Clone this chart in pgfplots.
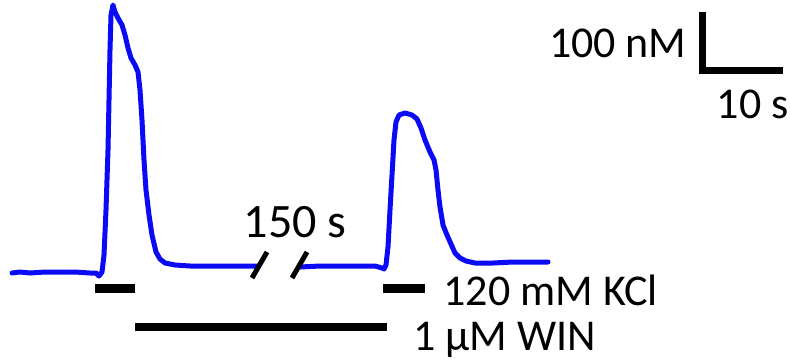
\documentclass[border=0pt]{standalone}
\usepackage{pgfplots}
\pgfplotsset{compat=1.18}
\usepackage{fontspec}
\setmainfont{Carlito}
\begin{document}
\begin{tikzpicture}
\begin{axis}[
  scale only axis, width=395pt, height=180pt,
  xmin=0, xmax=790, ymin=0, ymax=360,
  hide axis, clip=false,
  y dir=reverse,
]
\addplot[draw=none] coordinates {(0,0) (790,360)};
% trace, first part
\addplot[color={rgb,255:red,10;green,10;blue,245}, line width=2.5pt, line join=round, line cap=round] coordinates {
(12,273)(20,272)(30,273)(45,272)(60,272)(75,272)(90,273)(96,273)(99,276)(102,272)(104,255)(106,210)(108,150)(109,100)(110,50)(111,15)(113,5)(115,12)(118,18)(122,25)(125,35)(128,48)(131,58)(135,65)(138,72)(140,90)(142,120)(144,160)(146,190)(149,215)(152,235)(156,252)(160,259)(165,263)(175,265)(190,266)(210,266)(230,266)(245,266)(258,266)
};
% trace, second part
\addplot[color={rgb,255:red,10;green,10;blue,245}, line width=2.5pt, line join=round, line cap=round] coordinates {
(300,267)(320,266)(340,266)(360,266)(375,266)(382,268)(384,269)(386,265)(388,247)(390,210)(392,175)(394,140)(396,122)(399,115)(405,113)(412,115)(417,119)(421,128)(425,140)(430,152)(434,160)(436,170)(438,190)(440,207)(443,225)(447,235)(451,244)(455,253)(460,258)(466,261)(475,263)(493,263)(513,262)(530,262)(548,262)
};
% break marks
\addplot[black, line width=2.5pt] coordinates {(252,278)(267,252)};
\addplot[black, line width=2.5pt] coordinates {(292,278)(307,252)};
% stimulus bars
\addplot[black, line width=4.5pt] coordinates {(95,288)(135,288)};
\addplot[black, line width=4.5pt] coordinates {(383,288)(425,288)};
\addplot[black, line width=4pt] coordinates {(135,327)(387,327)};
% scale bar
\addplot[black, line width=3.5pt, line join=miter] coordinates {(702,12)(702,70)(783,70)};
% labels
\node[anchor=base, inner sep=0pt, font=\fontsize{24}{28}\selectfont] at (axis cs:295,237) {150 s};
\node[anchor=base west, inner sep=0pt, font=\fontsize{22}{26}\selectfont] at (axis cs:443,305) {120 mM KCl};
\node[anchor=base west, inner sep=0pt, font=\fontsize{22}{26}\selectfont] at (axis cs:413,350) {1 µM WIN};
\node[anchor=base east, inner sep=0pt, font=\fontsize{22}{26}\selectfont] at (axis cs:687,57) {100 nM};
\node[anchor=base east, inner sep=0pt, font=\fontsize{22}{26}\selectfont] at (axis cs:789,118) {10 s};
\end{axis}
\end{tikzpicture}
\end{document}
